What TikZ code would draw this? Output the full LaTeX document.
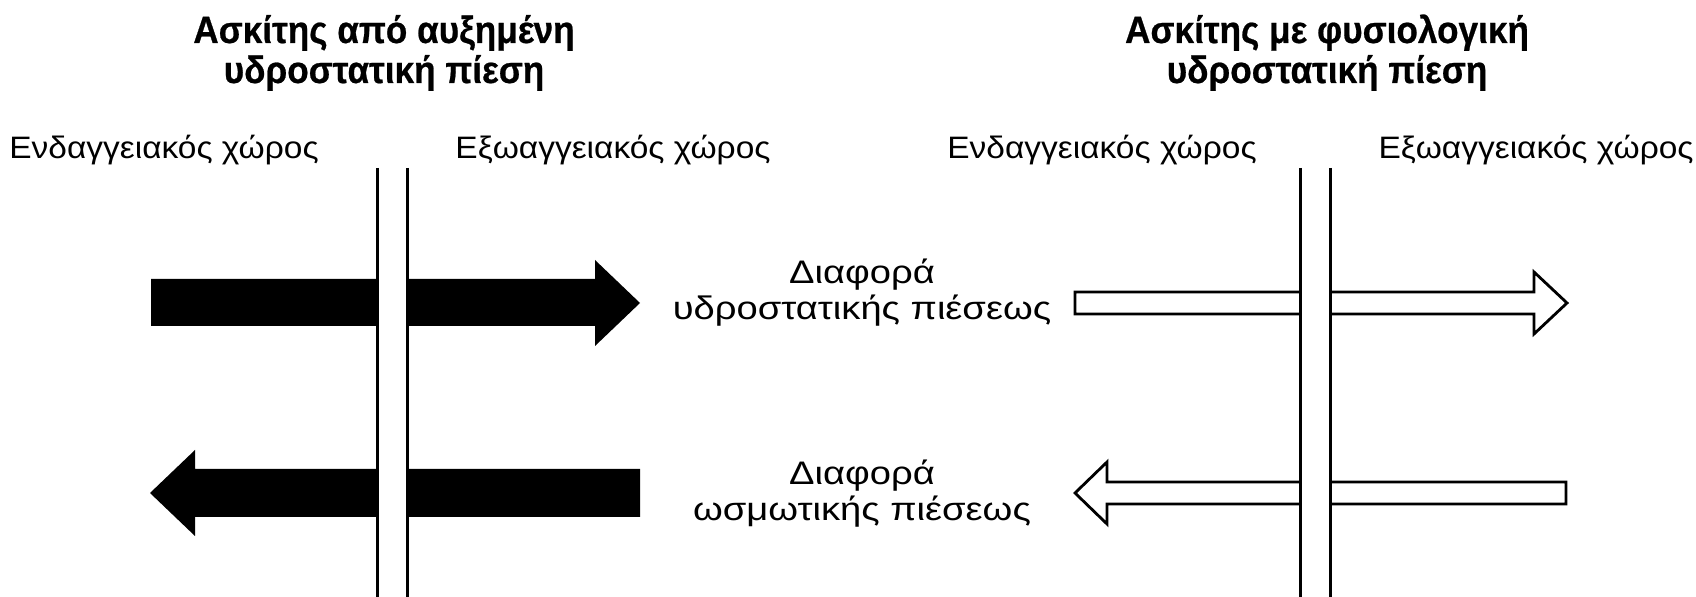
\documentclass[tikz,border=0pt]{standalone}
\usepackage{fontspec}
\setmainfont{Liberation Sans}
\newfontfamily\titlefont[FakeStretch=0.925,FakeBold=0.6]{Liberation Sans}
\newfontfamily\sidefont[FakeStretch=1.08]{Liberation Sans}
\newfontfamily\difffont[FakeStretch=1.17]{Liberation Sans}
\begin{document}
\begin{tikzpicture}[x=0.5pt,y=-0.5pt,
  membrane/.style={line width=1.5pt},
  gap/.style={fill=white, draw=none},
  solidarrow/.style={fill=black, draw=none},
  hollowarrow/.style={draw=black, fill=white, line width=1.4pt, line join=miter},
  titletext/.style={font=\titlefont\fontsize{19}{20}\selectfont\bfseries, align=center, inner sep=0pt, anchor=base},
  spacetext/.style={font=\sidefont\fontsize{15.5}{17.5}\selectfont, inner sep=0pt, anchor=base},
  difftext/.style={font=\difffont\fontsize{16.3}{18}\selectfont, align=center, inner sep=0pt, anchor=base}]
\useasboundingbox[fill=white] (0,0) rectangle (1696,597);

% left panel: solid arrows
\fill[solidarrow] (151,279) -- (595,279) -- (595,260) -- (640,303) -- (595,346) -- (595,326) -- (151,326) -- cycle;
\fill[solidarrow] (640,469) -- (195,469) -- (195,450) -- (150,493) -- (195,536) -- (195,517) -- (640,517) -- cycle;

% right panel: hollow arrows
\draw[hollowarrow] (1075,292) -- (1534,292) -- (1534,272) -- (1567,303) -- (1534,334) -- (1534,314) -- (1075,314) -- cycle;
\draw[hollowarrow] (1566,482) -- (1107,482) -- (1107,462) -- (1075,493) -- (1107,524) -- (1107,504) -- (1566,504) -- cycle;

% membranes
\coordinate (m1a) at (377,168); \coordinate (m1b) at (377,597);
\coordinate (m2a) at (407,168); \coordinate (m2b) at (407,597);
\coordinate (m3a) at (1300,168); \coordinate (m3b) at (1300,597);
\coordinate (m4a) at (1330,168); \coordinate (m4b) at (1330,597);
\fill[gap] (m1a) rectangle (m2b);
\fill[gap] (m3a) rectangle (m4b);
\draw[membrane] (m1a) -- (m1b);
\draw[membrane] (m2a) -- (m2b);
\draw[membrane] (m3a) -- (m3b);
\draw[membrane] (m4a) -- (m4b);

% titles
\node[titletext] (tl) at (384,83) {Ασκίτης από αυξημένη\\υδροστατική πίεση};
\node[titletext] (tr) at (1327,83) {Ασκίτης με φυσιολογική\\υδροστατική πίεση};

% space labels
\node[spacetext] (enl) at (164,159) {Ενδαγγειακός χώρος};
\node[spacetext] (exl) at (613,159) {Εξωαγγειακός χώρος};
\node[spacetext] (enr) at (1102,159) {Ενδαγγειακός χώρος};
\node[spacetext] (exr) at (1536,159) {Εξωαγγειακός χώρος};

% middle labels
\node[difftext] (dh) at (862,320) {Διαφορά\\υδροστατικής πιέσεως};
\node[difftext] (do) at (862,521) {Διαφορά\\ωσμωτικής πιέσεως};
\end{tikzpicture}
\end{document}
